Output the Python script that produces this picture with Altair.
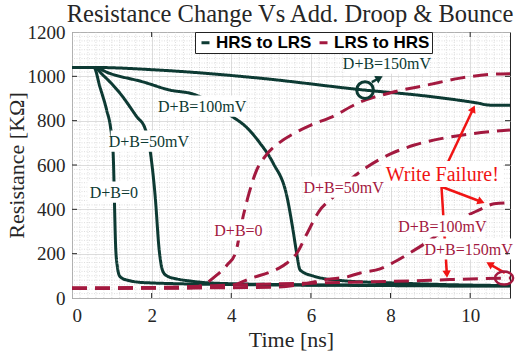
import math
import altair as alt
import pandas as pd

# ---------------- data ----------------
TYPES = ["HRS to LRS", "LRS to HRS"]

# HRS -> LRS (solid, dark green)
G0_T = [0, 0.55, 0.7, 0.87, 0.97, 1.03, 1.1, 1.14, 1.18, 1.25, 1.4, 1.63, 2.0, 2.5, 3.5, 5, 7, 9, 11]
G0_R = [1040, 1040, 953, 848, 767, 667, 216, 140, 105, 90, 80, 72, 68, 65, 62, 59, 57, 55, 54]
G50_T = [0, 0.55, 0.78, 1.2, 1.63, 1.83, 1.96, 2.09, 2.19, 2.23, 2.29, 2.4, 2.63, 3.0, 3.47, 5, 7, 9, 11]
G50_R = [1040, 1040, 1005, 925, 817, 767, 667, 456, 216, 160, 117, 98, 86, 76, 68, 61, 58, 56, 55]
G100_T = [0, 0.55, 0.95, 1.78, 2.46, 3.04, 3.97, 4.4, 4.72, 5.05, 5.4, 5.55, 5.63, 5.73, 6.06, 6.8, 8.07, 9.5, 11]
G100_R = [1040, 1040, 1013, 975, 938, 920, 825, 767, 699, 609, 456, 307, 216, 126, 99, 78, 68, 60, 56]
G150_T = [0, 0.55, 2.2, 4.7, 7.24, 8.9, 10.17, 10.5, 11]
G150_R = [1040, 1040, 1028, 992, 940, 911, 880, 870, 870]

# LRS -> HRS (dashed, dark red)
R0_T = [0, 3.0, 3.3, 3.64, 3.9, 4.1, 4.3, 4.45, 4.6, 4.9, 5.2, 5.6, 6.0, 6.5, 7.24, 8.07, 8.9, 9.75, 10.6, 11]
R0_R = [44, 46, 60, 104, 150, 200, 370, 475, 560, 650, 700, 745, 780, 815, 884, 929, 960, 992, 1010, 1012]
R50_T = [0, 3.5, 4.0, 4.3, 4.6, 4.9, 5.2, 5.4, 5.65, 5.9, 6.2, 6.56, 6.9, 7.4, 8.0, 8.6, 9.3, 10.0, 10.6, 11]
R50_R = [44, 47, 55, 75, 95, 112, 135, 158, 203, 290, 390, 456, 520, 590, 650, 690, 720, 740, 752, 758]
R100_T = [0, 5.0, 5.8, 6.4, 6.9, 7.24, 7.74, 8.07, 8.5, 8.9, 9.3, 9.8, 10.2, 10.6, 11]
R100_R = [44, 48, 62, 84, 95, 113, 131, 160, 205, 250, 300, 360, 395, 425, 430]
R150_T = [0, 2, 3, 4, 5, 6, 7, 8, 9, 10, 11]
R150_R = [45, 47, 52, 58, 63, 67, 71, 75, 80, 86, 90]

X_TICKS = [0, 2, 4, 6, 8, 10]
Y_TICKS = [0, 200, 400, 600, 800, 1000, 1200]

TITLE = "Resistance Change Vs Add. Droop & Bounce"
GREEN_LABELS = ["D+B=150mV", "D+B=100mV", "D+B=50mV", "D+B=0"]
GREEN_LABEL_T = [7.91, 3.27, 1.93, 1.05]
GREEN_LABEL_R = [1060, 866, 708, 478]
RED_LABELS = ["D+B=0", "D+B=50mV", "D+B=100mV", "D+B=150mV"]
RED_LABEL_T = [4.18, 6.82, 9.3, 9.96]
RED_LABEL_R = [307, 500, 325, 221]
FAIL_TEXT = "Write Failure!"
FAIL_T, FAIL_R = 9.3, 559

# arrows: start t, start r, tip t, tip r
FAIL_ARROWS = [(9.3, 559, 10.12, 870), (9.28, 502, 10.37, 428), (9.28, 502, 9.42, 90), (10.87, 113, 10.4, 162)]
GREEN_ARROW = [(7.53, 974, 7.81, 1001)]
GREEN_RING = (7.36, 938)
RED_RING = (10.85, 90)

# ---------------- styling ----------------
W, H = 438, 266
XMAX, YMAX = 11, 1200
PXT = W / XMAX
PXR = H / YMAX
GREEN = "#0d3a33"
RED = "#a3193f"
BRIGHT = "#f01414"
SERIF = "Liberation Serif"

def series_df(items, typ):
    rows = []
    for name, ts, rs in items:
        for i, (t, r) in enumerate(zip(ts, rs)):
            rows.append({"t": t, "r": r, "series": name, "type": typ, "i": i})
    return pd.DataFrame(rows)

df_g = series_df([("g0", G0_T, G0_R), ("g50", G50_T, G50_R), ("g100", G100_T, G100_R), ("g150", G150_T, G150_R)], TYPES[0])
df_r = series_df([("r0", R0_T, R0_R), ("r50", R50_T, R50_R), ("r100", R100_T, R100_R), ("r150", R150_T, R150_R)], TYPES[1])

XS = alt.Scale(domain=[0, XMAX], nice=False, zero=False)
YS = alt.Scale(domain=[0, YMAX], nice=False, zero=False)

X_AX = alt.Axis(values=X_TICKS, grid=True, gridColor="#d4d4d4", gridWidth=0.8, ticks=False, domain=False,
                format="d",
                labelFont=SERIF, labelFontSize=19, labelColor="#262626", labelPadding=8,
                title="Time [ns]", titleFont=SERIF, titleFontSize=22, titleFontWeight="normal",
                titleColor="#262626", titleX=W / 2, titleY=48, titleBaseline="alphabetic", titleAlign="center")
Y_AX = alt.Axis(values=Y_TICKS, grid=True, gridColor="#d4d4d4", gridWidth=0.8, ticks=False, domain=False,
                format="d",
                labelFont=SERIF, labelFontSize=19, labelColor="#262626", labelPadding=7,
                title="Resistance [KΩ]", titleFont=SERIF, titleFontSize=22, titleFontWeight="normal",
                titleColor="#262626", titleAngle=270, titleX=-49, titleY=H / 2,
                titleBaseline="alphabetic", titleAlign="center")

def X(field="t"):
    return alt.X(f"{field}:Q", scale=XS, axis=X_AX)

def Y(field="r"):
    return alt.Y(f"{field}:Q", scale=YS, axis=Y_AX)

# minor grid
minor_x = pd.DataFrame({"t": [round(0.2 * k, 2) for k in range(1, 55) if k % 10 != 0]})
minor_y = pd.DataFrame({"r": [20 * k for k in range(1, 60) if k % 10 != 0]})
grid_x = alt.Chart(minor_x).mark_rule(color="#c8c8c8", strokeWidth=0.6, strokeDash=[1, 1.5]).encode(x=X())
grid_y = alt.Chart(minor_y).mark_rule(color="#c8c8c8", strokeWidth=0.6, strokeDash=[1, 1.5]).encode(y=Y())

color_enc = alt.Color("type:N", scale=alt.Scale(domain=TYPES, range=[GREEN, RED]),
                      legend=alt.Legend(title=None, orient="none", legendX=123, legendY=0, direction="horizontal",
                                        symbolType="stroke", symbolSize=64, symbolStrokeWidth=3,
                                        labelFont="Liberation Sans", labelFontSize=17, labelFontWeight="bold",
                                        labelColor="black", fillColor="white", strokeColor="#222",
                                        padding=2, columnPadding=1, labelOffset=2, labelLimit=200))
dash_enc = alt.StrokeDash("type:N", scale=alt.Scale(domain=TYPES, range=[[1, 0], [15, 8]]), legend=None)

green_lines = alt.Chart(df_g).mark_line(strokeWidth=3, interpolate="monotone").encode(
    x=X(), y=Y(), color=color_enc, strokeDash=dash_enc, detail="series:N", order="i:Q")
red_lines = alt.Chart(df_r).mark_line(strokeWidth=3, interpolate="monotone", strokeCap="butt").encode(
    x=X(), y=Y(), color=color_enc, strokeDash=dash_enc, detail="series:N", order="i:Q")

# arrows
def arrow_layers(arrows, color, width):
    segs, heads = [], []
    for (t1, r1, t2, r2) in arrows:
        dx = (t2 - t1) * PXT
        dy = -(r2 - r1) * PXR
        L = math.hypot(dx, dy)
        ux, uy = dx / L, dy / L
        back = 4.0
        hx_t = t2 - ux * back / PXT
        hx_r = r2 + uy * back / PXR
        segs.append({"t": t1, "r": r1, "t2": hx_t, "r2": hx_r})
        ang = math.degrees(math.atan2(dx, -dy)) % 360
        heads.append({"t": hx_t, "r": hx_r, "a": ang})
    seg = alt.Chart(pd.DataFrame(segs)).mark_rule(color=color, strokeWidth=width).encode(
        x=X(), y=Y(), x2="t2:Q", y2="r2:Q")
    head = alt.Chart(pd.DataFrame(heads)).mark_point(shape="triangle-up", filled=True, color=color,
                                                     size=70, opacity=1).encode(
        x=X(), y=Y(), angle=alt.Angle("a:Q", scale=None))
    return seg, head

fail_seg, fail_head = arrow_layers(FAIL_ARROWS, BRIGHT, 2.5)
g_seg, g_head = arrow_layers(GREEN_ARROW, GREEN, 2.5)

# label boxes
def box_df(texts, ts, rs, fs, pad=3):
    rows = []
    for s, t, r in zip(texts, ts, rs):
        w = 0.55 * fs * len(s) if s != FAIL_TEXT else 116
        if s in ("D+B=0",):
            w = 47
        hw = w / 2 + pad
        hh = fs * 0.6 + 1
        rows.append({"t": t - hw / PXT, "t2": t + hw / PXT, "r": r - hh / PXR, "r2": r + hh / PXR,
                     "tc": t, "rc": r, "s": s})
    return pd.DataFrame(rows)

gb = box_df(GREEN_LABELS, GREEN_LABEL_T, GREEN_LABEL_R, 16)
rb = box_df(RED_LABELS, RED_LABEL_T, RED_LABEL_R, 16)
fb = box_df([FAIL_TEXT], [FAIL_T], [FAIL_R], 20)
boxes = pd.concat([gb, rb, fb], ignore_index=True)
box_layer = alt.Chart(boxes).mark_rect(color="white").encode(x=X(), x2="t2:Q", y=Y(), y2="r2:Q")

def text_layer(df, color, fs):
    d = df[["tc", "rc", "s"]].rename(columns={"tc": "t", "rc": "r"})
    return alt.Chart(d).mark_text(font=SERIF, fontSize=fs, color=color, align="center", baseline="middle",
                                  dy=1).encode(x=X(), y=Y(), text="s:N")

g_text = text_layer(gb, GREEN, 16)
r_text = text_layer(rb, RED, 16)
f_text = text_layer(fb, BRIGHT, 20)

title_layer = alt.Chart(pd.DataFrame({"s": [TITLE]})).mark_text(
    font=SERIF, fontSize=24.5, color="#262626", align="center", baseline="alphabetic").encode(
    x=alt.value(W / 2 - 1), y=alt.value(-10), text="s:N")

ring_g = alt.Chart(pd.DataFrame({"t": [GREEN_RING[0]], "r": [GREEN_RING[1]]})).mark_point(
    shape="circle", size=280, filled=False, color=GREEN, strokeWidth=3, opacity=1).encode(x=X(), y=Y())
ring_r = alt.Chart(pd.DataFrame({"t": [RED_RING[0]], "r": [RED_RING[1]]})).mark_point(
    shape="M-1,0A1,0.72,0,1,1,1,0A1,0.72,0,1,1,-1,0Z", size=330, filled=False, color=RED,
    strokeWidth=2.5, opacity=1).encode(x=X(), y=Y())

# inward ticks
tx = pd.DataFrame({"t": X_TICKS[1:]})
ty = pd.DataFrame({"r": Y_TICKS[1:-1]})
tick_b = alt.Chart(tx).mark_rule(color="#262626", strokeWidth=1).encode(x=X(), y=alt.value(H), y2=alt.value(H - 5))
tick_t = alt.Chart(tx).mark_rule(color="#262626", strokeWidth=1).encode(x=X(), y=alt.value(0), y2=alt.value(5))
tick_l = alt.Chart(ty).mark_rule(color="#262626", strokeWidth=1).encode(y=Y(), x=alt.value(0), x2=alt.value(5))
tick_r = alt.Chart(ty).mark_rule(color="#262626", strokeWidth=1).encode(y=Y(), x=alt.value(W), x2=alt.value(W - 5))

chart = alt.layer(
    grid_x, grid_y, green_lines, red_lines, fail_seg, box_layer, g_text, r_text, f_text,
    fail_head, g_seg, g_head, ring_g, ring_r, tick_b, tick_t, tick_l, tick_r, title_layer
).properties(
    width=W, height=H,
    padding={"left": 72, "top": 32, "right": 6, "bottom": 56},
    autosize=alt.AutoSizeParams(type="none"),
).configure_view(stroke="#262626", strokeWidth=1)

chart.save("out.html", embed_options={"renderer": "svg", "actions": False})
